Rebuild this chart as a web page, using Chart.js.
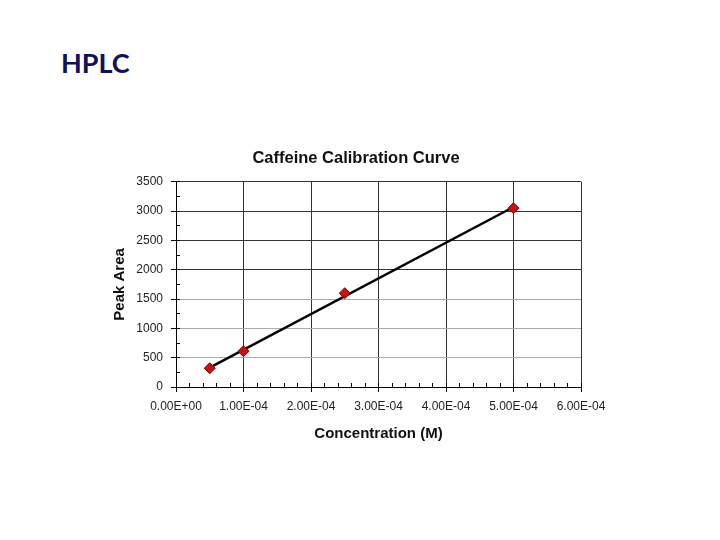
<!DOCTYPE html>
<html>
<head>
<meta charset="utf-8">
<script src="https://cdn.jsdelivr.net/npm/chart.js@4.4.1/dist/chart.umd.min.js"></script>
<style>
  body { margin: 0; width: 720px; height: 540px; background: #fff; position: relative; overflow: hidden; }
  .slide-title { position: absolute; left: 61px; top: 46px; font: bold 27px Lato, "Liberation Sans", sans-serif; color: #10105a; }
  .chart-box { position: absolute; left: 106px; top: 140px; width: 500px; height: 305px; }
</style>
</head>
<body>
<div class="slide-title">HPLC</div>
<div class="chart-box"><canvas id="calibChart"></canvas></div>
<script>
// calibration standards
const concentrations = [5e-5, 1e-4, 2.5e-4, 5e-4];
const peakAreas = [320, 610, 1600, 3050];

// linear trendline end points, as drawn
const trendConc = [5e-5, 5e-4];
const trendArea = [330, 3070];

const xTicks = [0, 1e-4, 2e-4, 3e-4, 4e-4, 5e-4, 6e-4];
const yTicks = [0, 500, 1000, 1500, 2000, 2500, 3000, 3500];

const font = "Arial, 'Liberation Sans', sans-serif";
const darkLine = "#333333";
const lightLine = "#aaaaaa";

function sciLabel(v) {
  const [mant, exp] = Number(v).toExponential(2).split("e");
  const n = parseInt(exp, 10);
  const sign = n < 0 ? "-" : "+";
  return `${mant}E${sign}${String(Math.abs(n)).padStart(2, "0")}`;
}

const ctx = document.getElementById("calibChart").getContext("2d");

new Chart(ctx, {
  type: "scatter",
  data: {
    datasets: [
      {
        label: "Standards",
        data: concentrations.map((c, i) => ({ x: c, y: peakAreas[i] })),
        pointStyle: "rectRot",
        pointRadius: 5.5,
        pointHoverRadius: 5.5,
        backgroundColor: "#cc1010",
        borderColor: "#7a0000",
        borderWidth: 1,
        order: 1,
      },
      {
        label: "Trendline",
        type: "line",
        data: trendConc.map((c, i) => ({ x: c, y: trendArea[i] })),
        borderColor: "#000",
        borderWidth: 2.5,
        pointRadius: 0,
        fill: false,
        order: 2,
      },
    ],
  },
  options: {
    responsive: true,
    maintainAspectRatio: false,
    animation: false,
    layout: { padding: 0 },
    plugins: {
      legend: { display: false },
      tooltip: { enabled: false },
      title: {
        display: true,
        text: "Caffeine Calibration Curve",
        color: "#111",
        font: { family: font, size: 16.5, weight: "bold" },
        padding: { top: 9, bottom: 13 },
      },
    },
    scales: {
      x: {
        type: "linear",
        weight: 1,
        min: 0,
        max: 6e-4,
        afterBuildTicks: (s) => { s.ticks = xTicks.map((v) => ({ value: v })); },
        afterFit: (s) => { s.height = 58; s.paddingRight = 25; },
        ticks: {
          callback: (v) => sciLabel(v),
          color: "#222",
          font: { family: font, size: 12 },
          padding: 7,
          maxRotation: 0,
          autoSkip: false,
        },
        grid: { color: darkLine, tickColor: "#000", tickLength: 5, lineWidth: 1 },
        border: { color: "#000", width: 1 },
        title: {
          display: true,
          text: "Concentration (M)",
          color: "#111",
          font: { family: font, size: 15, weight: "bold" },
          padding: { top: 0, bottom: 2 },
        },
      },
      xMinor: {
        type: "linear",
        position: "bottom",
        weight: 0,
        min: 0,
        max: 6e-4,
        afterFit: (s) => { s.height = 0; },
        ticks: { stepSize: 2e-5, display: false },
        grid: { drawOnChartArea: false, tickColor: "#000", tickLength: -4 },
        border: { display: false },
      },
      y: {
        type: "linear",
        weight: 1,
        min: 0,
        max: 3500,
        afterBuildTicks: (s) => { s.ticks = yTicks.map((v) => ({ value: v })); },
        afterFit: (s) => { s.width = 70; },
        ticks: {
          callback: (v) => String(v),
          color: "#222",
          font: { family: font, size: 12 },
          padding: 8,
        },
        grid: {
          color: (c) => (c.tick && c.tick.value >= 2000 ? darkLine : lightLine),
          tickColor: "#000",
          tickLength: 5,
          lineWidth: 1,
        },
        border: { color: "#000", width: 1 },
        title: {
          display: true,
          text: "Peak Area",
          color: "#111",
          font: { family: font, size: 15, weight: "bold" },
          padding: { top: 5, bottom: 0 },
        },
      },
      yMinor: {
        type: "linear",
        position: "left",
        weight: 0,
        min: 0,
        max: 3500,
        afterFit: (s) => { s.width = 0; },
        ticks: { stepSize: 250, display: false },
        grid: { drawOnChartArea: false, tickColor: "#000", tickLength: -4 },
        border: { display: false },
      },
    },
  },
});
</script>
</body>
</html>
